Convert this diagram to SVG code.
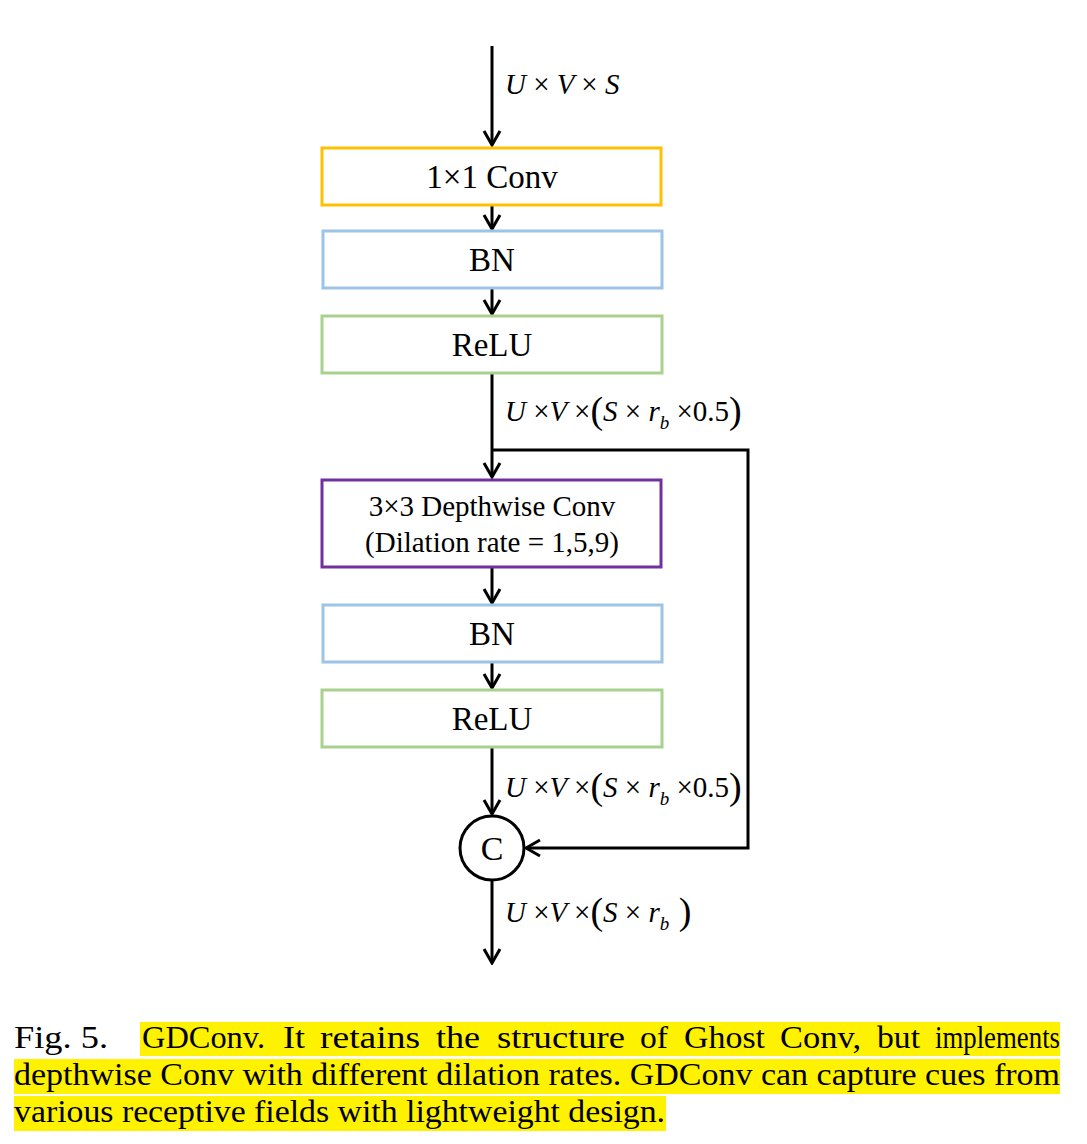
<svg xmlns="http://www.w3.org/2000/svg" width="1087" height="1144" viewBox="0 0 1087 1144">
<style>
.box{fill:#fff;stroke-width:3}
.t{font-family:"Liberation Serif","Times New Roman",serif;font-size:33px;fill:#000;text-anchor:middle}
.m{font-family:"Liberation Serif","Times New Roman",serif;font-size:29px;fill:#000;font-style:italic}
.n{font-style:normal}
.p{font-style:normal;font-size:38px}
.s{font-size:19px}
.c{font-family:"Liberation Serif","Times New Roman",serif;font-size:32px;fill:#000}
.ln{fill:none;stroke:#000;stroke-width:3}
.hl{fill:#FFF200}
</style>
<defs>
<marker id="ah" viewBox="0 0 20 20" refX="18" refY="10" markerWidth="20" markerHeight="20" markerUnits="userSpaceOnUse" orient="auto">
<polyline points="4,2 18,10 4,18" fill="none" stroke="#000" stroke-width="3"/>
</marker>
</defs>
<rect width="1087" height="1144" fill="#fff"/>
<g id="connectors">
<line class="ln" x1="492" y1="46" x2="492" y2="145" marker-end="url(#ah)"/>
<line class="ln" x1="492" y1="206" x2="492" y2="229" marker-end="url(#ah)"/>
<line class="ln" x1="492" y1="289" x2="492" y2="314" marker-end="url(#ah)"/>
<line class="ln" x1="492" y1="374" x2="492" y2="477" marker-end="url(#ah)"/>
<polyline class="ln" points="492,450 748,450 748,848 526,848" marker-end="url(#ah)"/>
<line class="ln" x1="492" y1="568" x2="492" y2="603" marker-end="url(#ah)"/>
<line class="ln" x1="492" y1="663" x2="492" y2="688" marker-end="url(#ah)"/>
<line class="ln" x1="492" y1="748" x2="492" y2="814" marker-end="url(#ah)"/>
<line class="ln" x1="492" y1="880" x2="492" y2="963" marker-end="url(#ah)"/>
<text class="m" x="505" y="94">U <tspan class="n">×</tspan> V <tspan class="n">×</tspan> S</text>
<text class="m" x="505" y="421">U <tspan class="n">×</tspan>V <tspan class="n">×</tspan><tspan class="p" dy="2">(</tspan><tspan dy="-2">S</tspan> <tspan class="n">×</tspan> r<tspan class="s" dy="8">b</tspan><tspan class="n" dy="-8"> ×0.5</tspan><tspan class="p" dy="2">)</tspan></text>
<text class="m" x="505" y="797">U <tspan class="n">×</tspan>V <tspan class="n">×</tspan><tspan class="p" dy="2">(</tspan><tspan dy="-2">S</tspan> <tspan class="n">×</tspan> r<tspan class="s" dy="8">b</tspan><tspan class="n" dy="-8"> ×0.5</tspan><tspan class="p" dy="2">)</tspan></text>
<text class="m" x="505" y="922">U <tspan class="n">×</tspan>V <tspan class="n">×</tspan><tspan class="p" dy="2">(</tspan><tspan dy="-2">S</tspan> <tspan class="n">×</tspan> r<tspan class="s" dy="8">b</tspan><tspan class="p" dy="-6"> )</tspan></text>
</g>
<g id="conv1x1">
<rect class="box" x="322" y="148" width="339" height="57" stroke="#FFC000"/>
<text class="t" x="492" y="188">1×1 Conv</text>
</g>
<g id="bn1">
<rect class="box" x="323" y="231" width="339" height="57" stroke="#9DC3E6"/>
<text class="t" x="492" y="271">BN</text>
</g>
<g id="relu1">
<rect class="box" x="322" y="316" width="340" height="57" stroke="#A9D18E"/>
<text class="t" x="492" y="356">ReLU</text>
</g>
<g id="dwconv">
<rect class="box" x="322" y="480" width="339" height="87" stroke="#7030A0"/>
<text class="t" x="492" y="516" style="font-size:29px">3×3 Depthwise Conv</text>
<text class="t" x="492" y="552" style="font-size:29px">(Dilation rate = 1,5,9)</text>
</g>
<g id="bn2">
<rect class="box" x="323" y="605" width="339" height="57" stroke="#9DC3E6"/>
<text class="t" x="492" y="645">BN</text>
</g>
<g id="relu2">
<rect class="box" x="322" y="690" width="340" height="57" stroke="#A9D18E"/>
<text class="t" x="492" y="730">ReLU</text>
</g>
<g id="concat">
<circle cx="492" cy="848" r="32" fill="#fff" stroke="#000" stroke-width="3"/>
<text class="t" x="492" y="860" style="font-size:34px">C</text>
</g>
<g id="caption">
<rect class="hl" x="140" y="1022" width="920" height="34"/>
<rect class="hl" x="14" y="1059" width="1046" height="35"/>
<rect class="hl" x="14" y="1096" width="652" height="35"/>
<text class="c" x="14" y="1048" textLength="94" lengthAdjust="spacingAndGlyphs">Fig. 5.</text>
<text class="c" x="142" y="1048" textLength="123" lengthAdjust="spacingAndGlyphs">GDConv.</text>
<text class="c" x="283" y="1048" textLength="22" lengthAdjust="spacingAndGlyphs">It</text>
<text class="c" x="320" y="1048" textLength="100" lengthAdjust="spacingAndGlyphs">retains</text>
<text class="c" x="436" y="1048" textLength="44" lengthAdjust="spacingAndGlyphs">the</text>
<text class="c" x="497" y="1048" textLength="128" lengthAdjust="spacingAndGlyphs">structure</text>
<text class="c" x="640" y="1048" textLength="28" lengthAdjust="spacingAndGlyphs">of</text>
<text class="c" x="684" y="1048" textLength="81" lengthAdjust="spacingAndGlyphs">Ghost</text>
<text class="c" x="780" y="1048" textLength="81" lengthAdjust="spacingAndGlyphs">Conv,</text>
<text class="c" x="877" y="1048" textLength="43" lengthAdjust="spacingAndGlyphs">but</text>
<text class="c" x="935" y="1048" textLength="125" lengthAdjust="spacingAndGlyphs">implements</text>
<text class="c" x="14" y="1085" textLength="1046" lengthAdjust="spacingAndGlyphs">depthwise Conv with different dilation rates. GDConv can capture cues from</text>
<text class="c" x="14" y="1122" textLength="651" lengthAdjust="spacingAndGlyphs">various receptive fields with lightweight design.</text>
</g>
</svg>
